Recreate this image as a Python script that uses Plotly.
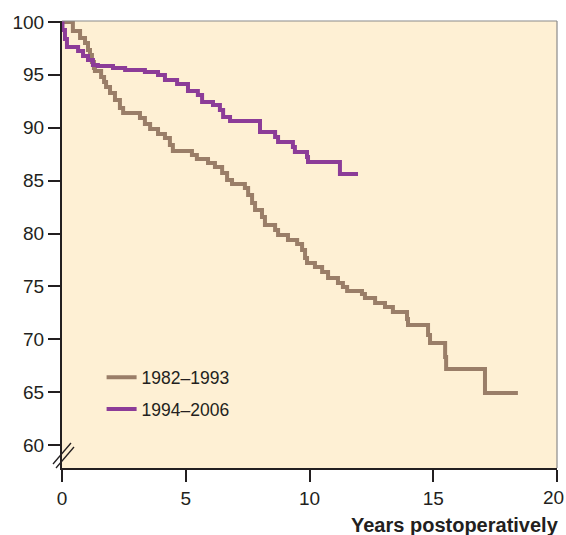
import plotly.graph_objects as go

# Kaplan-Meier style step data (years, survival %): survival level after each drop time
years_1982 = [0, 0.44, 0.73, 0.93, 1.05, 1.13, 1.21, 1.29, 1.33, 1.58, 1.70, 1.78, 1.94,
              2.14, 2.34, 2.47, 3.15, 3.35, 3.56, 3.88, 4.16, 4.36, 4.48, 5.25, 5.45,
              5.90, 6.18, 6.47, 6.67, 6.87, 7.39, 7.52, 7.68, 7.80, 8.08, 8.20, 8.61,
              8.73, 9.13, 9.50, 9.70, 9.82, 9.90, 10.22, 10.51, 10.75, 11.15, 11.35,
              11.52, 12.12, 12.24, 12.65, 13.05, 13.37, 13.94, 13.98, 14.79, 14.87,
              15.48, 15.52, 17.09, 18.42]
surv_1982 = [100, 99.15, 98.49, 98.01, 97.35, 96.88, 96.22, 95.65, 95.37, 94.80, 94.33,
             93.85, 93.29, 92.62, 91.87, 91.39, 90.92, 90.35, 89.88, 89.41, 89.03,
             88.37, 87.80, 87.42, 87.04, 86.67, 86.29, 85.72, 85.06, 84.68, 84.30,
             83.64, 82.88, 82.22, 81.56, 80.80, 80.33, 79.86, 79.39, 79.01, 78.44,
             77.68, 77.21, 76.83, 76.36, 75.79, 75.32, 74.94, 74.56, 74.28, 73.90,
             73.43, 73.05, 72.58, 71.92, 71.35, 70.40, 69.65, 68.32, 67.19, 64.92,
             64.92]

years_1994 = [0, 0.02, 0.12, 0.20, 0.65, 0.85, 1.05, 1.25, 1.45, 2.06, 2.55, 3.35, 3.88,
              4.16, 4.65, 5.09, 5.49, 5.66, 6.10, 6.38, 6.51, 6.79, 8.00, 8.61, 8.73,
              9.33, 9.41, 9.90, 9.94, 11.23, 11.96]
surv_1994 = [100, 99.24, 98.39, 97.64, 97.26, 96.78, 96.41, 95.93, 95.84, 95.65, 95.46,
             95.27, 94.99, 94.52, 94.14, 93.48, 93.10, 92.44, 92.15, 91.68, 91.02,
             90.64, 89.60, 89.13, 88.65, 88.18, 87.71, 87.23, 86.76, 85.63, 85.63]

series_names = ["1982–1993", "1994–2006"]
x_ticks = [0, 5, 10, 15, 20]
x_tick_labels = ["0", "5", "10", "15", "20"]
y_ticks = [60, 65, 70, 75, 80, 85, 90, 95, 100]

BROWN = "#9A7E68"
PURPLE = "#8C3C98"
BG = "#FEF0D4"
AX = "#231F20"
FONT = "Liberation Sans, Arial, sans-serif"

fig = go.Figure()
fig.add_trace(go.Scatter(x=years_1982, y=surv_1982, mode="lines",
                         line=dict(color=BROWN, width=4, shape="hv"),
                         name=series_names[0], legendgroup="a", cliponaxis=False))
fig.add_trace(go.Scatter(x=years_1994, y=surv_1994, mode="lines",
                         line=dict(color=PURPLE, width=4, shape="hv"),
                         name=series_names[1], legendgroup="b", cliponaxis=False))

def px2paper(px, py):
    return (px - 62) / 495.0, (468 - py) / 447.0

shapes = []
shapes.append(dict(type="line", xref="paper", yref="paper", x0=0, x1=1, y0=1, y1=1,
                   line=dict(color="#8A8A8A", width=1.2)))
shapes.append(dict(type="line", xref="paper", yref="paper", x0=1, x1=1, y0=0, y1=1,
                   line=dict(color="#8A8A8A", width=1.2)))
for (ax0, ay0, ax1, ay1) in [(53, 464, 71, 443), (56, 468, 74, 447)]:
    x0, y0 = px2paper(ax0, ay0)
    x1, y1 = px2paper(ax1, ay1)
    shapes.append(dict(type="line", xref="paper", yref="paper", x0=x0, y0=y0, x1=x1, y1=y1,
                       line=dict(color=AX, width=1.3)))

# last x tick label placed so it stays inside the page edge
last_x, last_y = px2paper(566, 497)
annotations = [
    dict(text="<b>Years postoperatively</b>", xref="paper", yref="paper",
         x=1.008, y=-0.128, xanchor="right", yanchor="middle", showarrow=False,
         font=dict(size=20, color=AX, family=FONT)),
    dict(text=x_tick_labels[-1], xref="paper", yref="paper", x=last_x, y=last_y,
         xanchor="right", yanchor="middle", showarrow=False,
         font=dict(size=19, color=AX, family=FONT)),
]

fig.update_layout(
    width=566, height=535,
    margin=dict(l=62, r=9, t=21, b=67, autoexpand=False),
    paper_bgcolor="white", plot_bgcolor=BG,
    font=dict(family=FONT, size=19, color=AX),
    showlegend=True,
    legend=dict(x=0.08, y=0.243, xanchor="left", yanchor="top", bgcolor="rgba(0,0,0,0)",
                font=dict(size=17.5, color=AX), tracegroupgap=6, itemwidth=30),
    shapes=shapes,
    annotations=annotations,
)
fig.update_xaxes(range=[0, 20], tickvals=x_ticks, ticktext=x_tick_labels[:-1] + [""],
                 ticks="outside", ticklen=12, tickwidth=1.5,
                 tickcolor=AX, showline=True, linecolor=AX, linewidth=2, showgrid=False,
                 zeroline=False, tickfont=dict(size=19, color=AX), automargin=False)
fig.update_yaxes(range=[57.83, 100.09], tickvals=y_ticks, ticks="outside", ticklen=12, tickwidth=1.5,
                 tickcolor=AX, showline=True, linecolor=AX, linewidth=2, showgrid=False,
                 zeroline=False, tickfont=dict(size=19, color=AX), automargin=False)

fig.write_html("out.html", config={"displayModeBar": False},
               post_script="document.body.style.margin='0';")
